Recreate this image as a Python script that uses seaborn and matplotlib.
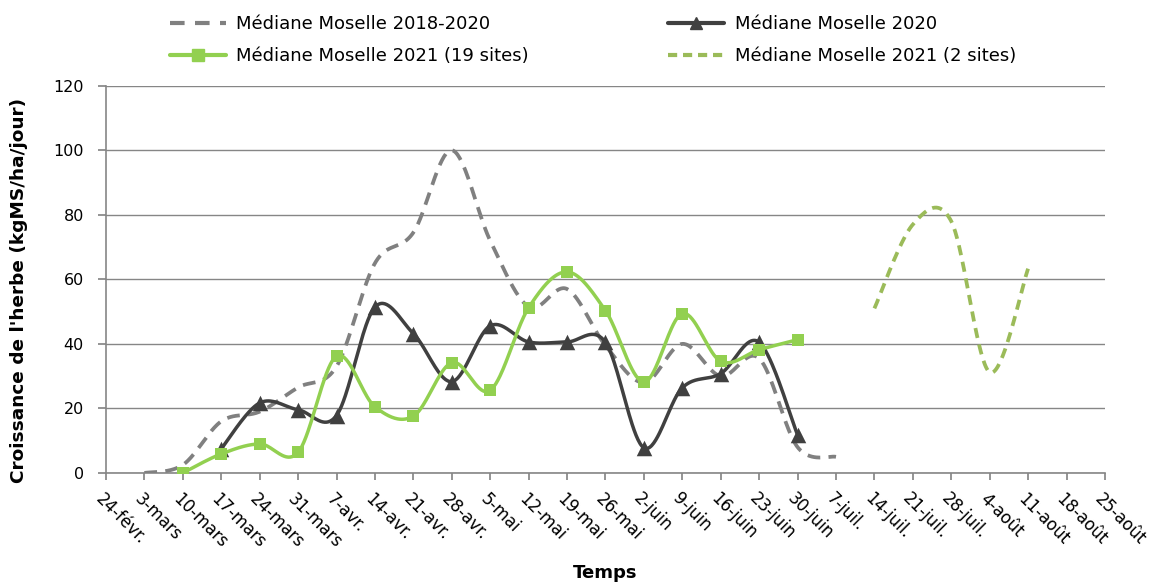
import numpy as np
import pandas as pd
import matplotlib
matplotlib.use("Agg")
import matplotlib.pyplot as plt
from matplotlib.lines import Line2D
from matplotlib.transforms import ScaledTranslation
import seaborn as sns

# Weekly dates (category axis)
weeks = ["24-févr.", "3-mars", "10-mars", "17-mars", "24-mars", "31-mars", "7-avr.",
         "14-avr.", "21-avr.", "28-avr.", "5-mai", "12-mai", "19-mai", "26-mai",
         "2-juin", "9-juin", "16-juin", "23-juin", "30-juin", "7-juil.", "14-juil.",
         "21-juil.", "28-juil.", "4-août", "11-août", "18-août", "25-août"]

# Médiane Moselle 2018-2020 (from 3-mars to 7-juil.)
med_2018_2020 = [0, 2.5, 16, 19, 26.5, 33, 65, 74.5, 100, 72, 51.5, 57, 39.5,
                 28, 40, 30, 35.5, 8, 5]
# Médiane Moselle 2020 (from 17-mars to 30-juin)
med_2020 = [7.5, 21.7, 19.6, 17.8, 51.4, 43.2, 28.3, 45.6, 40.6, 40.6, 40.5,
            7.8, 26.4, 30.8, 40.5, 11.8]
# Médiane Moselle 2021, 19 sites (from 10-mars to 30-juin)
med_2021_19 = [0, 5.9, 9.0, 6.4, 36.2, 20.5, 17.6, 34.2, 25.6, 51.2, 62.3,
               50.3, 28.2, 49.4, 34.6, 38.2, 41.3]
# Médiane Moselle 2021, 2 sites (from 14-juil. to 11-août)
med_2021_2 = [51, 77, 78, 31.2, 63.3]

start_2018_2020 = weeks.index("3-mars")
start_2020 = weeks.index("17-mars")
start_2021_19 = weeks.index("10-mars")
start_2021_2 = weeks.index("14-juil.")

C_GREY = "#808080"
C_DARK = "#404040"
C_GREEN = "#92D050"
C_OLIVE = "#9BBB59"
C_AXIS = "#868686"


def smooth_curve(xs, ys, n=40):
    """Bezier smoothing through every point (spreadsheet-style smoothed line)."""
    pts = np.column_stack([xs, ys]).astype(float)
    out = []
    for i in range(len(pts) - 1):
        p0 = pts[i - 1] if i > 0 else pts[i]
        p1, p2 = pts[i], pts[i + 1]
        p3 = pts[i + 2] if i + 2 < len(pts) else pts[i + 1]
        c1 = p1 + (p2 - p0) / 6.0
        c2 = p2 - (p3 - p1) / 6.0
        t = np.linspace(0, 1, n)[:, None]
        seg = ((1 - t) ** 3) * p1 + 3 * ((1 - t) ** 2) * t * c1 \
            + 3 * (1 - t) * t ** 2 * c2 + t ** 3 * p2
        out.append(seg if i == 0 else seg[1:])
    arr = np.vstack(out)
    return pd.DataFrame({"x": arr[:, 0], "y": arr[:, 1]})


def series_frame(start, values):
    return pd.DataFrame({"x": np.arange(start, start + len(values)), "y": values})


sns.set_theme(style="white")
plt.rcParams["font.family"] = ["DejaVu Sans"]
plt.rcParams["text.color"] = "black"
plt.rcParams["axes.labelcolor"] = "black"

fig = plt.figure(figsize=(11.62, 5.85), dpi=100)
ax = fig.add_axes([0.0912, 0.1915, 0.8597, 0.662])

# Médiane 2018-2020: grey dashed smoothed line
d = series_frame(start_2018_2020, med_2018_2020)
s = smooth_curve(d["x"], d["y"])
sns.lineplot(data=s, x="x", y="y", sort=False, estimator=None, ax=ax,
             color=C_GREY, lw=2.7, zorder=3)
ax.lines[-1].set_dashes([3.4, 2.2])

# Médiane 2020: dark line with triangles
d = series_frame(start_2020, med_2020)
s = smooth_curve(d["x"], d["y"])
sns.lineplot(data=s, x="x", y="y", sort=False, estimator=None, ax=ax,
             color=C_DARK, lw=2.5, zorder=4)
sns.scatterplot(data=d, x="x", y="y", ax=ax, marker="^", s=125,
                color=C_DARK, edgecolor=C_DARK, linewidth=0, zorder=5)

# Médiane 2021 (19 sites): green line with squares
d = series_frame(start_2021_19, med_2021_19)
s = smooth_curve(d["x"], d["y"])
sns.lineplot(data=s, x="x", y="y", sort=False, estimator=None, ax=ax,
             color=C_GREEN, lw=2.5, zorder=6)
sns.scatterplot(data=d, x="x", y="y", ax=ax, marker="s", s=85,
                color=C_GREEN, edgecolor=C_GREEN, linewidth=0, zorder=7)

# Médiane 2021 (2 sites): olive dashed smoothed line
d = series_frame(start_2021_2, med_2021_2)
s = smooth_curve(d["x"], d["y"])
sns.lineplot(data=s, x="x", y="y", sort=False, estimator=None, ax=ax,
             color=C_OLIVE, lw=2.7, zorder=3)
ax.lines[-1].set_dashes([2.7, 1.8])

# Axes styling
ax.set_xlim(0, len(weeks) - 1)
ax.set_ylim(0, 120)
ax.set_yticks(np.arange(0, 121, 20))
ax.set_xticks(np.arange(len(weeks)))
ax.set_xticklabels(weeks, rotation=-45, ha="left", va="top",
                   rotation_mode="anchor", fontsize=12)
ax.tick_params(axis="y", labelsize=11.5, length=6, color=C_AXIS, pad=10,
               left=True, direction="out", labelcolor="black")
ax.tick_params(axis="x", length=5, color=C_AXIS, pad=7, bottom=True,
               direction="out", labelcolor="black")
for lab in ax.get_xticklabels():
    lab.set_transform(lab.get_transform() +
                      ScaledTranslation(-1 / 100, 0, fig.dpi_scale_trans))
ax.grid(axis="y", color=C_AXIS, lw=1)
ax.grid(axis="x", visible=False)
for side in ["top", "right"]:
    ax.spines[side].set_visible(False)
for side in ["left", "bottom"]:
    ax.spines[side].set_color(C_AXIS)
    ax.spines[side].set_linewidth(1.2)
ax.set_axisbelow(True)

ax.set_xlabel("Temps", fontsize=13, fontweight="bold")
ax.set_ylabel("Croissance de l'herbe (kgMS/ha/jour)", fontsize=13.3,
              fontweight="bold")
ax.yaxis.set_label_coords(-0.078, 0.4716)
ax.xaxis.set_label_coords(0.5, -0.236)
ax.xaxis.label.set_va("top")

# Legend above the plot (row 1: 2018-2020, 2020; row 2: the two 2021 series)
handles = [
    Line2D([], [], color=C_GREY, lw=3, dashes=[3.5, 2.5]),
    Line2D([], [], color=C_GREEN, lw=3, marker="s", markersize=8),
    Line2D([], [], color=C_DARK, lw=3, marker="^", markersize=9),
    Line2D([], [], color=C_OLIVE, lw=3, dashes=[2.2, 1.4]),
]
labels = ["Médiane Moselle 2018-2020", "Médiane Moselle 2021 (19 sites)",
          "Médiane Moselle 2020", "Médiane Moselle 2021 (2 sites)"]
fig.legend(handles, labels, loc="upper left", bbox_to_anchor=(0.132, 1.0015),
           ncol=2, frameon=False, fontsize=13, handlelength=3.1,
           handletextpad=0.6, columnspacing=7.7, labelspacing=0.77)

fig.savefig("out.png", dpi=100)
